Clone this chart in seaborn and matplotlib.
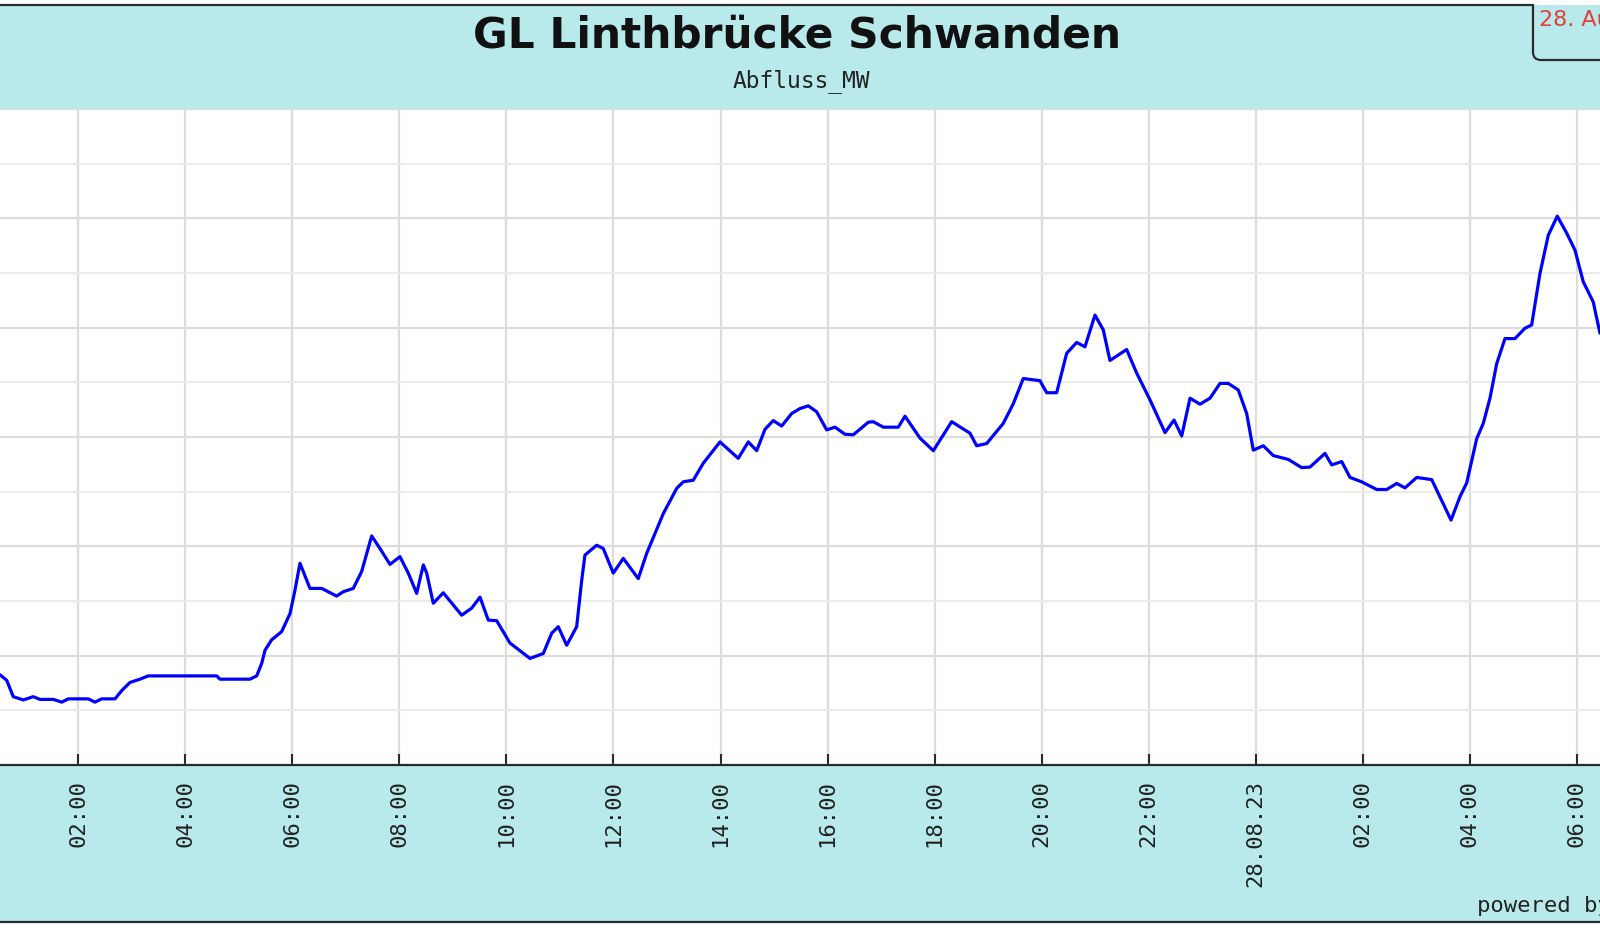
import numpy as np
import pandas as pd
import matplotlib
matplotlib.use("Agg")
import matplotlib.pyplot as plt
import matplotlib.dates as mdates
from matplotlib.patches import Rectangle, PathPatch
from matplotlib.path import Path
from matplotlib.lines import Line2D
from matplotlib.ticker import FuncFormatter, MultipleLocator
import seaborn as sns

# ---------------- data (hours since 27.08.23 00:00, flow in grid units) -------------
hours = [0.535, 0.660, 0.783, 0.970, 1.157, 1.282, 1.531, 1.688, 1.811, 2.185,
         2.310, 2.435, 2.684, 2.809, 2.964, 3.151, 3.306, 4.585, 4.646, 5.207,
         5.332, 5.426, 5.488, 5.612, 5.799, 5.955, 6.048, 6.141, 6.328, 6.547,
         6.827, 6.950, 7.137, 7.294, 7.481, 7.636, 7.823, 8.010, 8.165, 8.322,
         8.446, 8.509, 8.632, 8.819, 9.163, 9.350, 9.505, 9.660, 9.817, 10.066,
         10.440, 10.688, 10.845, 10.968, 11.125, 11.312, 11.406, 11.467, 11.686, 11.809,
         11.996, 12.183, 12.463, 12.620, 12.931, 13.181, 13.304, 13.491, 13.678, 13.990,
         14.332, 14.519, 14.676, 14.831, 14.986, 15.143, 15.330, 15.485, 15.641, 15.798,
         15.984, 16.140, 16.326, 16.481, 16.762, 16.855, 17.042, 17.322, 17.448, 17.728,
         17.977, 18.320, 18.662, 18.787, 18.974, 19.285, 19.472, 19.658, 19.970, 20.095,
         20.282, 20.469, 20.656, 20.811, 20.998, 21.153, 21.278, 21.590, 21.777, 22.026,
         22.307, 22.475, 22.619, 22.774, 22.961, 23.148, 23.334, 23.490, 23.676, 23.833,
         23.957, 24.144, 24.331, 24.611, 24.861, 25.017, 25.297, 25.422, 25.609, 25.764,
         25.983, 26.263, 26.450, 26.637, 26.792, 27.011, 27.291, 27.652, 27.820, 27.945,
         28.132, 28.255, 28.380, 28.505, 28.660, 28.847, 29.034, 29.159, 29.314, 29.469,
         29.638, 29.813, 29.968, 30.123, 30.310, 30.435]
flow = [1.65, 1.55, 1.25, 1.19, 1.25, 1.20, 1.20, 1.15, 1.21, 1.21,
        1.15, 1.21, 1.21, 1.36, 1.51, 1.57, 1.63, 1.63, 1.57, 1.57,
        1.63, 1.86, 2.10, 2.29, 2.44, 2.77, 3.20, 3.69, 3.23, 3.23,
        3.09, 3.17, 3.23, 3.54, 4.19, 3.96, 3.67, 3.81, 3.51, 3.14,
        3.66, 3.51, 2.96, 3.15, 2.74, 2.87, 3.07, 2.65, 2.64, 2.23,
        1.95, 2.04, 2.41, 2.53, 2.19, 2.53, 3.38, 3.84, 4.02, 3.96,
        3.51, 3.78, 3.41, 3.87, 4.60, 5.06, 5.18, 5.21, 5.52, 5.91,
        5.61, 5.91, 5.75, 6.14, 6.30, 6.20, 6.43, 6.52, 6.57, 6.46,
        6.13, 6.18, 6.05, 6.04, 6.27, 6.28, 6.18, 6.18, 6.38, 5.98,
        5.75, 6.28, 6.07, 5.84, 5.88, 6.25, 6.61, 7.07, 7.03, 6.81,
        6.81, 7.53, 7.73, 7.65, 8.23, 7.96, 7.40, 7.60, 7.17, 6.68,
        6.08, 6.31, 6.02, 6.71, 6.60, 6.71, 6.98, 6.98, 6.86, 6.43,
        5.76, 5.84, 5.66, 5.59, 5.44, 5.45, 5.70, 5.49, 5.55, 5.26,
        5.18, 5.04, 5.04, 5.15, 5.07, 5.26, 5.22, 4.48, 4.91, 5.16,
        5.97, 6.25, 6.71, 7.34, 7.80, 7.80, 7.99, 8.05, 8.99, 9.69,
        10.04, 9.73, 9.42, 8.84, 8.47, 7.90]
start_date = "2023-08-27"
title = "GL Linthbrücke Schwanden"
subtitle = "Abfluss_MW"
stamp = "28. Aug. 2023 06:30"
footer = "powered by"
x_start_h, x_end_h = 0.535, 30.436
y_min, y_max = 0, 12

base = pd.Timestamp(start_date)
df = pd.DataFrame({"time": base + pd.to_timedelta(hours, unit="h"), "flow": flow})

# ---------------- styling ----------------
sns.set_theme(style="white")
plt.rcParams["font.family"] = ["DejaVu Sans Mono", "DejaVu Sans"]

W, H = 1600, 932
fig = plt.figure(figsize=(W / 100, H / 100), dpi=100)
fig.patch.set_facecolor("white")

def fy(y):
    return 1 - y / H

def fx(x):
    return x / W

CYAN = "#b9eaeb"
DARK = "#2a2a2a"
top_plot, bot_plot = 109, 765

fig.patches.append(Rectangle((0, fy(109)), 1, fy(5) - fy(109), transform=fig.transFigure,
                             facecolor=CYAN, edgecolor="none", zorder=-2))
fig.patches.append(Rectangle((0, fy(922)), 1, fy(765) - fy(922), transform=fig.transFigure,
                             facecolor=CYAN, edgecolor="none", zorder=-2))

ax = fig.add_axes([0, fy(bot_plot), 1, fy(top_plot) - fy(bot_plot)])
ax.set_facecolor("white")
sns.lineplot(data=df, x="time", y="flow", color="#0000ff", lw=2.3, ax=ax, zorder=5)

ax.set_xlim(base + pd.Timedelta(hours=x_start_h), base + pd.Timedelta(hours=x_end_h))
ax.set_ylim(y_min, y_max)
ax.set_xlabel("")
ax.set_ylabel("")

ax.yaxis.set_major_locator(MultipleLocator(2))
ax.yaxis.set_minor_locator(MultipleLocator(1))
ax.grid(which="major", axis="y", color="#dcdcdc", lw=1.6)
ax.grid(which="minor", axis="y", color="#ececec", lw=1.4)
ax.grid(which="major", axis="x", color="#dcdcdc", lw=1.6)
ax.tick_params(axis="y", which="both", left=False, right=False, labelleft=False)

ax.xaxis.set_major_locator(mdates.HourLocator(byhour=range(0, 24, 2)))

def fmt(v, pos=None):
    d = mdates.num2date(v)
    if d.hour == 0 and d.minute == 0:
        return d.strftime("%d.%m.%y")
    return d.strftime("%H:%M")

ax.xaxis.set_major_formatter(FuncFormatter(fmt))
ax.tick_params(axis="x", which="major", direction="in", length=8, width=1.5, bottom=True,
               color=DARK, pad=11, labelsize=16, labelrotation=90, labelcolor="#222222")
for s in ["left", "right", "top"]:
    ax.spines[s].set_visible(False)
ax.spines["bottom"].set_color(DARK)
ax.spines["bottom"].set_linewidth(1.6)

# borders
fig.lines.append(Line2D([0, 1], [fy(922), fy(922)], transform=fig.transFigure, color=DARK, lw=1.6))
fig.lines.append(Line2D([0, fx(1533)], [fy(5), fy(5)], transform=fig.transFigure, color=DARK, lw=1.6))
verts = [(fx(1533), fy(5)), (fx(1533), fy(52)), (fx(1533), fy(60)), (fx(1541), fy(60)), (fx(1600), fy(60))]
codes = [Path.MOVETO, Path.LINETO, Path.CURVE3, Path.CURVE3, Path.LINETO]
fig.patches.append(PathPatch(Path(verts, codes), transform=fig.transFigure, facecolor="none",
                             edgecolor=DARK, lw=1.6, zorder=3))

# texts
fig.text(fx(797), fy(36), title, ha="center", va="center", fontsize=30.5, fontweight="bold",
         family="DejaVu Sans", color="#111111")
fig.text(fx(801), fy(81), subtitle, ha="center", va="center", fontsize=16.5, color="#222222")
fig.text(fx(1539), fy(20), stamp, ha="left", va="center", fontsize=16, family="DejaVu Sans",
         color="#e0403a")
fig.text(fx(1477), fy(906), footer, ha="left", va="center", fontsize=16, color="#222222")

fig.savefig("out.png", dpi=100)
